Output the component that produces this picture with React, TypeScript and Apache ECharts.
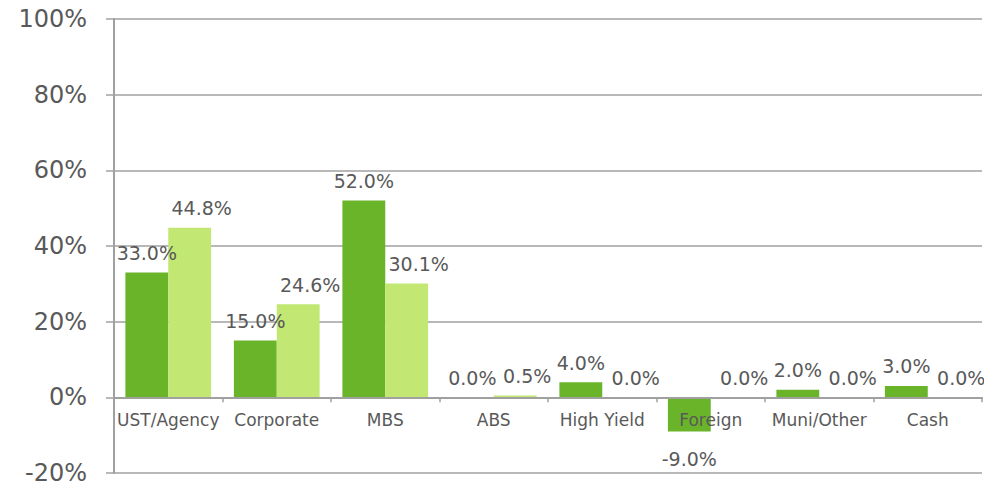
import React, { useEffect, useRef } from "react";
import * as echarts from "echarts";

const categories = ["UST/Agency", "Corporate", "MBS", "ABS", "High Yield", "Foreign", "Muni/Other", "Cash"];
const portfolio = [33.0, 15.0, 52.0, 0.0, 4.0, -9.0, 2.0, 3.0];
const benchmark = [44.8, 24.6, 30.1, 0.5, 0.0, 0.0, 0.0, 0.0];
const yTicks = { min: -20, max: 100, interval: 20 };

const FONT = "DejaVu Sans, Verdana, sans-serif";
const TEXT = "#595959";
const GRID = "#a0a0a0";
const W = 984;
const H = 486;
const G = { left: 114, right: 2, top: 19, bottom: 13 };

function toItems(values: number[]) {
  return values.map((v) => ({
    value: v,
    label: v < 0 ? { position: "bottom", distance: 18 } : { position: "top" },
  }));
}

export default function App() {
  const ref = useRef<HTMLDivElement>(null);
  useEffect(() => {
    if (!ref.current) return;
    const chart = echarts.init(ref.current, null, { renderer: "svg" });
    const gridH = H - G.top - G.bottom;
    const zeroOffset = -((0 - yTicks.min) / (yTicks.max - yTicks.min)) * gridH;
    const labelBase = {
      show: true,
      fontFamily: FONT,
      fontSize: 19,
      color: TEXT,
      distance: 10,
      formatter: (p: any) => `${Number(p.value).toFixed(1)}%`,
    };
    chart.setOption({
      animation: false,
      grid: { ...G, containLabel: false, outerBoundsMode: "none" },
      xAxis: {
        type: "category",
        data: categories,
        position: "bottom",
        offset: zeroOffset,
        z: 10,
        axisLine: { onZero: false, lineStyle: { color: GRID, width: 2 } },
        axisTick: { show: true, length: 5, lineStyle: { color: GRID, width: 1.5 } },
        axisLabel: { fontFamily: FONT, fontSize: 17, color: TEXT, margin: 14, interval: 0 },
      },
      yAxis: {
        type: "value",
        min: yTicks.min,
        max: yTicks.max,
        interval: yTicks.interval,
        axisLine: { show: true, lineStyle: { color: GRID, width: 2 } },
        axisTick: { show: true, inside: false, length: 8, lineStyle: { color: GRID, width: 1.5 } },
        axisLabel: { fontFamily: FONT, fontSize: 24, color: TEXT, margin: 27, formatter: "{value}%" },
        splitLine: { show: true, lineStyle: { color: GRID, width: 1.5 } },
      },
      series: [
        {
          type: "bar",
          name: "Portfolio",
          data: toItems(portfolio),
          itemStyle: { color: "#6ab42a" },
          barGap: "0%",
          barCategoryGap: "21%",
          label: { ...labelBase },
        },
        {
          type: "bar",
          name: "Benchmark",
          data: toItems(benchmark),
          itemStyle: { color: "#c2e772" },
          barGap: "0%",
          barCategoryGap: "21%",
          label: { ...labelBase, offset: [12, 0] },
        },
      ],
    });
    return () => chart.dispose();
  }, []);
  return (
    <div
      ref={ref}
      style={{ position: "fixed", left: 0, top: 0, width: W, height: H, background: "#ffffff" }}
    />
  );
}
